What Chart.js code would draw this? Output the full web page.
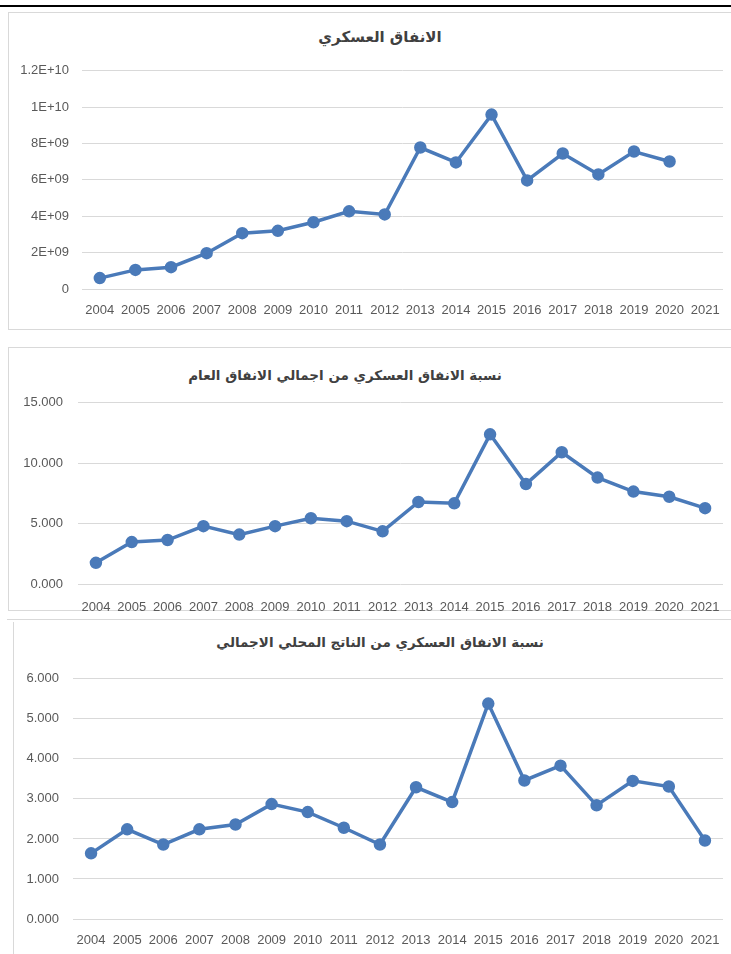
<!DOCTYPE html>
<html>
<head>
<meta charset="utf-8">
<script src="https://cdn.jsdelivr.net/npm/chart.js@4.4.1/dist/chart.umd.min.js"></script>
<style>
  body { margin: 0; width: 731px; height: 954px; overflow: hidden; background: #fff; position: relative; }
  .topline { position: absolute; left: 0; top: 5px; width: 731px; height: 2px; background: #000; }
  .box { position: absolute; border: 1px solid #d9d9d9; box-sizing: border-box; }
  .hline { position: absolute; height: 1px; background: #d9d9d9; }
  .title { position: absolute; transform: translate(-50%, -50%); white-space: nowrap; direction: rtl;
           font: bold 13.5px "DejaVu Sans", sans-serif; color: #404040; }
  canvas { position: absolute; }
</style>
</head>
<body>
<div class="topline"></div>
<div class="box" style="left:8px; top:12px; width:740px; height:318px;"></div>
<div class="box" style="left:8px; top:347px; width:740px; height:264px;"></div>
<div class="hline" style="left:7px; top:619px; width:730px;"></div>
<div class="box" style="left:13px; top:622px; width:740px; height:340px; border-top:none;"></div>

<div class="title" style="left:380px; top:37px; font-size:15px;">الانفاق العسكري</div>
<div class="title" style="left:345px; top:375px;">نسبة الانفاق العسكري من اجمالي الانفاق العام</div>
<div class="title" style="left:380px; top:642px;">نسبة الانفاق العسكري من الناتج المحلي الاجمالي</div>

<canvas id="c1" width="723" height="270" style="left:8px; top:50px;"></canvas>
<canvas id="c2" width="723" height="236" style="left:8px; top:380px;"></canvas>
<canvas id="c3" width="723" height="292" style="left:8px; top:657px;"></canvas>

<script>
const years = ['2004', '2005', '2006', '2007', '2008', '2009', '2010', '2011', '2012',
  '2013', '2014', '2015', '2016', '2017', '2018', '2019', '2020', '2021'];

// military spending (2021 not reported)
const spending = [0.60e9, 1.05e9, 1.20e9, 1.97e9, 3.07e9, 3.20e9, 3.67e9, 4.27e9, 4.10e9,
  7.78e9, 6.96e9, 9.59e9, 5.97e9, 7.45e9, 6.30e9, 7.56e9, 7.01e9, null];

// share of total public spending (%)
const shareOfSpending = [1.75, 3.47, 3.64, 4.79, 4.09, 4.79, 5.44, 5.20, 4.36,
  6.79, 6.68, 12.39, 8.27, 10.91, 8.81, 7.65, 7.22, 6.28];

// share of GDP (%)
const shareOfGdp = [1.64, 2.24, 1.86, 2.24, 2.36, 2.87, 2.67, 2.28, 1.86,
  3.29, 2.92, 5.38, 3.46, 3.83, 2.84, 3.45, 3.31, 1.96];

const blue = '#4a7ab9';
const tickFont = { family: '"Liberation Sans", Arial, sans-serif', size: 13 };

function sci(v) {
  if (v === 0) return '0';
  const [m, e] = v.toExponential().split('e');
  const n = Math.abs(parseInt(e));
  return m + 'E' + (e[0] === '-' ? '-' : '+') + (n < 10 ? '0' + n : n);
}

function makeChart(id, data, y, axisWidth, axisHeight, labelGap, pad) {
  return new Chart(document.getElementById(id), {
    type: 'line',
    data: {
      labels: years,
      datasets: [{
        data,
        borderColor: blue,
        backgroundColor: blue,
        borderWidth: 3.5,
        pointRadius: 4.5,
        pointHoverRadius: 4.5,
        tension: 0,
      }],
    },
    options: {
      responsive: false,
      animation: false,
      events: [],
      layout: { padding: pad },
      plugins: { legend: { display: false }, title: { display: false }, tooltip: { enabled: false } },
      scales: {
        x: {
          offset: true,
          grid: { display: false },
          border: { display: false },
          ticks: { color: '#595959', font: tickFont, padding: labelGap, autoSkip: false, maxRotation: 0 },
          afterFit: s => { s.height = axisHeight; },
        },
        y: {
          min: y.min,
          max: y.max,
          grid: { color: '#d9d9d9', lineWidth: 1, drawTicks: false },
          border: { display: false },
          ticks: { stepSize: y.step, color: '#595959', font: tickFont, padding: y.padding, callback: y.format },
          afterFit: s => { s.width = axisWidth; },
        },
      },
    },
  });
}

makeChart('c1', spending, { min: 0, max: 1.2e10, step: 2e9, padding: 13, format: v => sci(v) },
  74, 31, 6, { top: 20, right: 6, bottom: 0, left: 0 });
makeChart('c2', shareOfSpending, { min: 0, max: 15, step: 5, padding: 15, format: v => v.toFixed(3) },
  70, 32, 8, { top: 19, right: 0, bottom: 0, left: 0 });
makeChart('c3', shareOfGdp, { min: 0, max: 6, step: 1, padding: 14, format: v => v.toFixed(3) },
  65, 30, 6, { top: 20, right: 5, bottom: 0, left: 0 });
</script>
</body>
</html>
